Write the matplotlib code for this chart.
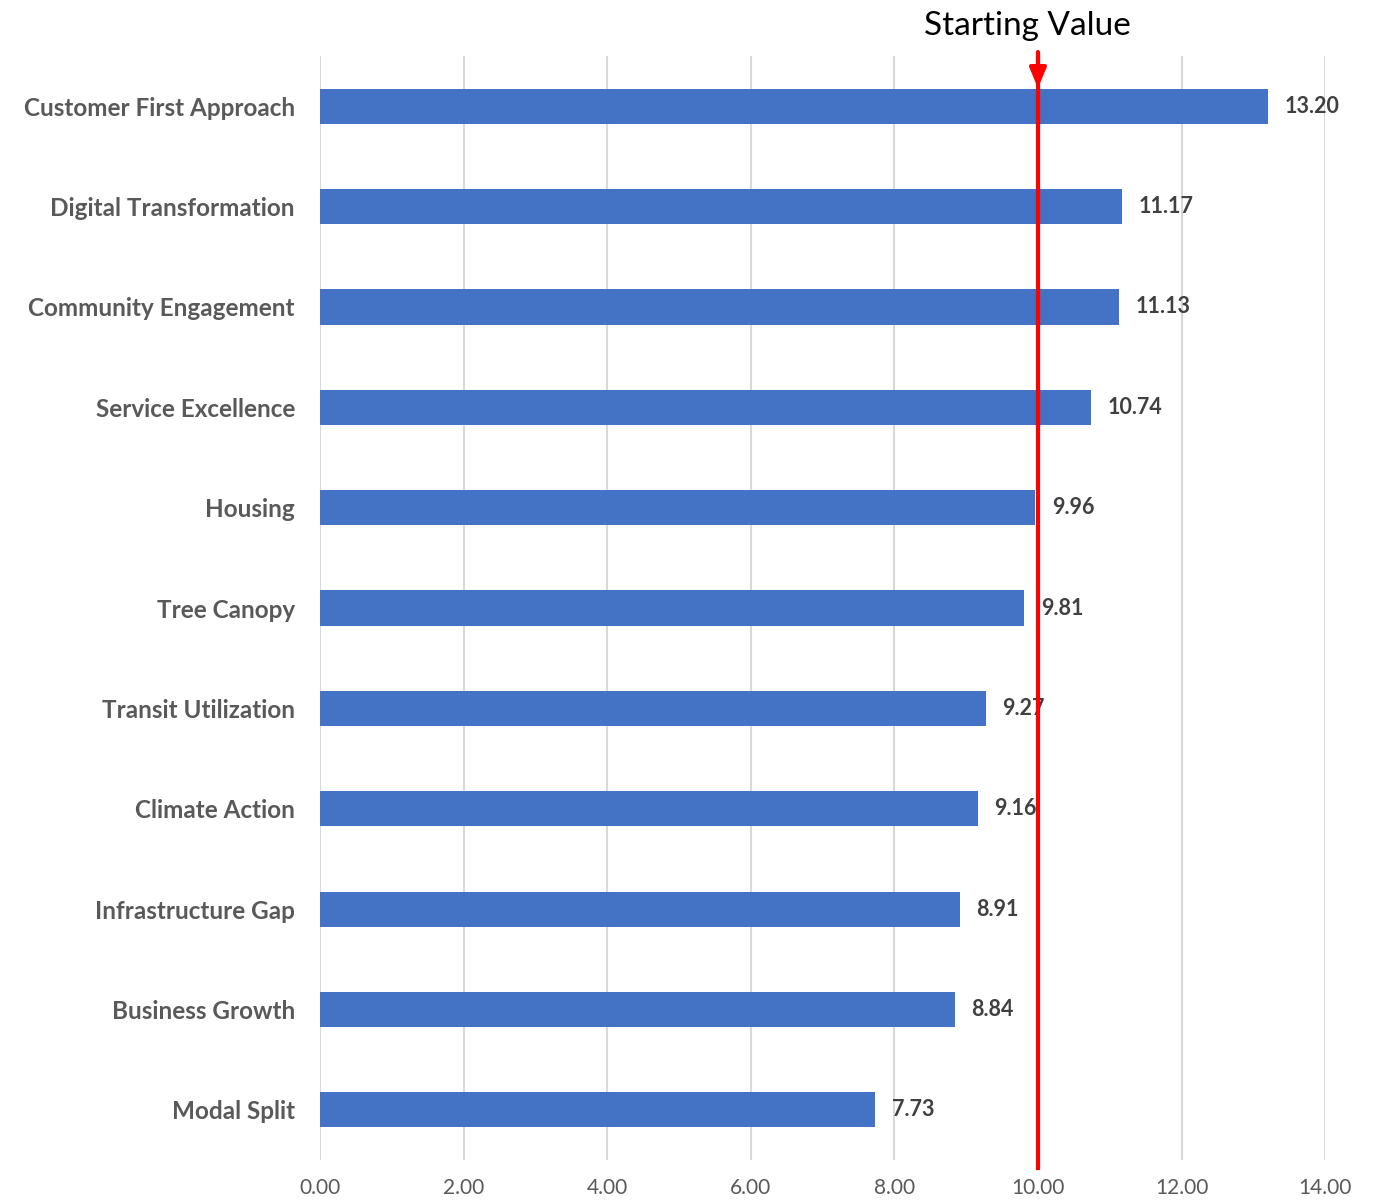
import matplotlib.pyplot as plt
import numpy as np

plt.rcParams['font.family'] = ['Lato', 'DejaVu Sans']

# data, top to bottom
categories = ['Customer First Approach', 'Digital Transformation', 'Community Engagement',
              'Service Excellence', 'Housing', 'Tree Canopy', 'Transit Utilization',
              'Climate Action', 'Infrastructure Gap', 'Business Growth', 'Modal Split']
values = [13.20, 11.17, 11.13, 10.74, 9.96, 9.81, 9.27, 9.16, 8.91, 8.84, 7.73]
starting_value = 10.0
x_ticks = [0, 2, 4, 6, 8, 10, 12, 14]

fig = plt.figure(figsize=(13.79, 12.03), dpi=100)
ax = fig.add_axes([0.232, 0.0357, 0.729, 0.9177])

y = np.arange(len(categories))
ax.barh(y, values, height=0.35, color='#4472C4', zorder=2)

# value labels
for yi, v in zip(y, values):
    ax.annotate(f'{v:.2f}', (v, yi), xytext=(12, 0), textcoords='offset points',
                va='center', ha='left', fontsize=15.5, fontweight='bold', color='#404040', zorder=3)

ax.set_ylim(len(categories) - 0.5, -0.5)
ax.set_xlim(0, 14)
ax.set_yticks(y)
ax.set_yticklabels(categories, fontsize=17.5, fontweight='bold', color='#595959')
ax.set_xticks(x_ticks)
ax.set_xticklabels([f'{t:.2f}' for t in x_ticks], fontsize=15, color='#595959')
ax.tick_params(length=0)
ax.tick_params(axis='y', pad=18)
ax.tick_params(axis='x', pad=13)
ax.grid(axis='x', color='#D9D9D9', linewidth=1.5, zorder=0)
for s in ax.spines.values():
    s.set_visible(False)

# starting value marker
ax.plot([starting_value, starting_value], [-0.5, len(categories) - 0.42], color='#FF0000',
        linewidth=3, zorder=4, clip_on=False)
ax.annotate('', xy=(starting_value, -0.18), xytext=(starting_value, -0.54),
            arrowprops=dict(arrowstyle='-|>,head_width=0.5,head_length=1.2', color='#FF0000',
                            lw=3, shrinkA=0, shrinkB=0), annotation_clip=False, zorder=5)
ax.text(starting_value - 0.15, -0.8, 'Starting Value', ha='center', va='center',
        fontsize=24, color='black')

fig.savefig('out.png', dpi=100)
